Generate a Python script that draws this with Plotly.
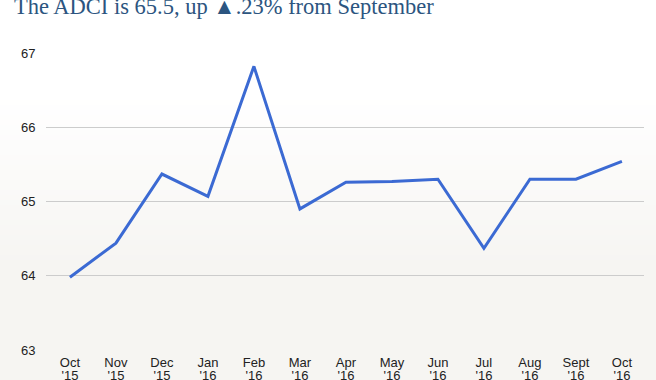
import plotly.graph_objects as go

months = ["Oct", "Nov", "Dec", "Jan", "Feb", "Mar", "Apr", "May", "Jun", "Jul", "Aug", "Sept", "Oct"]
years = ["'15", "'15", "'15", "'16", "'16", "'16", "'16", "'16", "'16", "'16", "'16", "'16", "'16"]
adci = [63.98, 64.44, 65.37, 65.07, 66.82, 64.90, 65.26, 65.27, 65.30, 64.37, 65.30, 65.30, 65.54]
y_ticks = [63, 64, 65, 66, 67]
title_text = "The ADCI is 65.5, up \u25B2.23% from September"

categories = [f"{m} {y}" for m, y in zip(months, years)]

W, H = 656, 380
ML, MR, MT, MB = 46, 12, 53, 30
PH = H - MT - MB

def py(p):
    return (H - MB - p) / PH

def px(p):
    return (p - ML) / (W - ML - MR)

fig = go.Figure()
fig.add_trace(go.Scatter(
    x=categories, y=adci, mode="lines",
    line=dict(color="#3b6ad3", width=3),
    hoverinfo="skip",
))
# invisible companion trace so the year axis is laid out on the same categories
fig.add_trace(go.Scatter(
    x=categories, y=adci, mode="lines", xaxis="x2",
    line=dict(color="rgba(0,0,0,0)", width=0),
    hoverinfo="skip",
))

# background gradient: white at top to warm light gray lower down
shapes = []
top_c = (255, 255, 255)
bot_c = (246, 245, 242)
start, end, step = 95, 265, 5
p = start
while p < end:
    t = (p - start + step / 2) / (end - start)
    c = tuple(round(a + (b - a) * t) for a, b in zip(top_c, bot_c))
    shapes.append(dict(type="rect", xref="paper", yref="paper", layer="below",
                       x0=px(0), x1=px(W), y0=py(p + step), y1=py(p),
                       fillcolor=f"rgb{c}", line=dict(width=0)))
    p += step
shapes.append(dict(type="rect", xref="paper", yref="paper", layer="below",
                   x0=px(0), x1=px(W), y0=py(H), y1=py(end),
                   fillcolor=f"rgb{bot_c}", line=dict(width=0)))

common_x = dict(
    type="category", range=[-0.52, 12.48], automargin=False,
    showgrid=False, zeroline=False, showline=False,
    ticks="outside", tickcolor="rgba(0,0,0,0)",
    tickvals=categories,
    tickfont=dict(size=13, color="#222222"),
)

fig.update_layout(
    width=W, height=H,
    margin=dict(l=ML, r=MR, t=MT, b=MB, pad=0, autoexpand=False),
    paper_bgcolor="white",
    plot_bgcolor="rgba(0,0,0,0)",
    showlegend=False,
    shapes=shapes,
    font=dict(family="Liberation Sans, Arial, sans-serif", size=13, color="#222222"),
    xaxis=dict(common_x, ticktext=months, ticklen=0),
    xaxis2=dict(common_x, ticktext=years, ticklen=13, overlaying="x", side="bottom", anchor="y"),
    yaxis=dict(
        range=[63, 67], tickvals=y_ticks, automargin=False,
        showgrid=True, gridcolor="#cccccc", gridwidth=1,
        zeroline=False, showline=False,
        ticks="outside", ticklen=7, tickcolor="rgba(0,0,0,0)",
        tickfont=dict(size=13, color="#222222"),
    ),
    annotations=[dict(
        text=title_text, xref="paper", yref="paper",
        x=px(12), y=py(-8), xanchor="left", yanchor="top",
        showarrow=False,
        font=dict(family="Liberation Serif, Times New Roman, serif", size=22.5, color="#2c5580"),
    )],
)

fig.write_html("out.html", config={"displayModeBar": False, "staticPlot": True},
               post_script="document.body.style.margin='0';")
